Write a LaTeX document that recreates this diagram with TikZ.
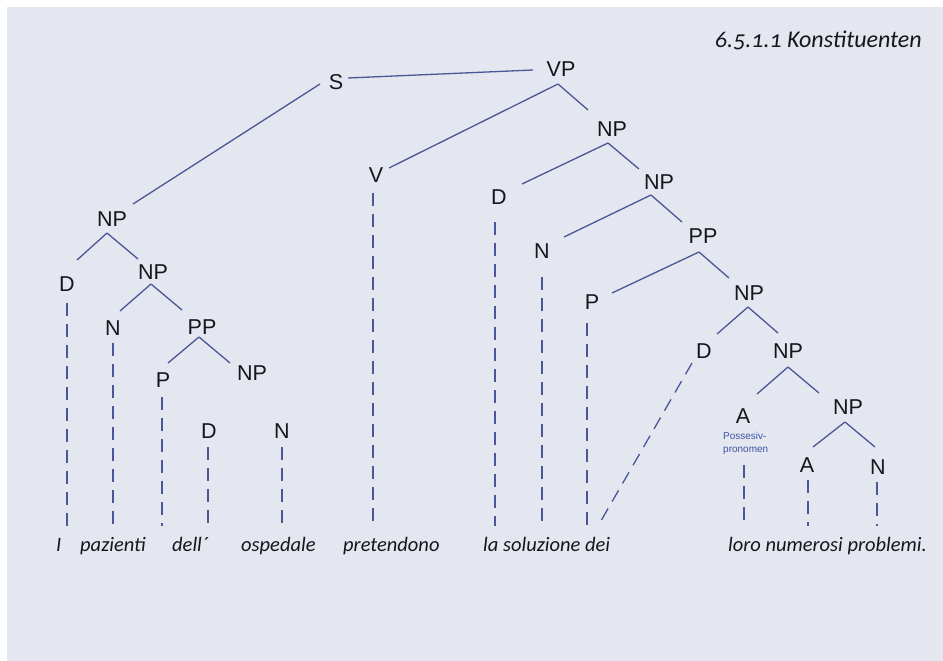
\documentclass[tikz,border=0pt]{standalone}
\usepackage{fontspec}
\setmainfont{Liberation Sans}
\newfontfamily\wordfont[Numbers=OldStyle]{Carlito}
\usetikzlibrary{calc}
\definecolor{bgc}{RGB}{228,231,240}
\definecolor{edgec}{RGB}{74,86,150}
\definecolor{lblc}{RGB}{22,22,28}
\definecolor{possc}{RGB}{62,82,165}
\newcommand\treeedge[6]{\draw[branch] ($(#1)+(#2,#3)$) -- ($(#4)+(#5,#6)$);}
\begin{document}
\begin{tikzpicture}[x=1pt,y=-1pt,
  cat/.style={font=\fontsize{21.5}{25}\selectfont, text=lblc, inner sep=0pt},
  word/.style={font=\wordfont\itshape\fontsize{20.5}{24}\selectfont, anchor=base west, inner sep=0pt, text=lblc},
  titlestyle/.style={font=\wordfont\itshape\fontsize{24}{28}\selectfont, anchor=base east, inner sep=0pt, text=lblc},
  poss/.style={font=\fontsize{10}{13}\selectfont, text=possc, inner sep=0pt, align=left, anchor=north west},
  branch/.style={draw=edgec, line width=1.3pt},
  proj/.style={draw=edgec, line width=1.3pt, dash pattern=on 13pt off 8pt}]
\useasboundingbox (0,0) rectangle (943,661);
\fill[white] (0,0) rectangle (943,661);
\fill[bgc] (7,7) rectangle (943,661);
\coordinate (base) at (0,526);

\node[titlestyle] (title) at (922,48) {6.5.1.1 Konstituenten};

% category nodes
\node[cat] (S)   at (336,82)  {S};
\node[cat] (VP)  at (561,69)  {VP};
\node[cat] (NPa) at (112,219) {NP};
\node[cat] (Da)  at (67,284)  {D};
\node[cat] (NPb) at (153,272) {NP};
\node[cat] (Nb)  at (113,328) {N};
\node[cat] (PPb) at (202,327) {PP};
\node[cat] (Pb)  at (163,380) {P};
\node[cat] (NPc) at (252,373) {NP};
\node[cat] (Dc)  at (209,431) {D};
\node[cat] (Nc)  at (282,431) {N};
\node[cat] (V)   at (376,175) {V};
\node[cat] (NP1) at (612,129) {NP};
\node[cat] (D1)  at (499,197) {D};
\node[cat] (NP2) at (659,182) {NP};
\node[cat] (N2)  at (542,251) {N};
\node[cat] (PP3) at (703,236) {PP};
\node[cat] (P3)  at (592,302) {P};
\node[cat] (NP4) at (749,293) {NP};
\node[cat] (D4)  at (704,351) {D};
\node[cat] (NP5) at (788,351) {NP};
\node[cat] (A5)  at (743,416) {A};
\node[cat] (NP6) at (848,407) {NP};
\node[cat] (A6)  at (807,465) {A};
\node[cat] (N6)  at (878,467) {N};
\node[poss] (possn) at (723,432) {Possesiv-\\pronomen};

% words
\node[word] (w1) at (56,551)  {I};
\node[word] (w2) at (80,551)  {pazienti};
\node[word] (w3) at (172,551) {dell´};
\node[word] (w4) at (241,551) {ospedale};
\node[word] (w5) at (343,551) {pretendono};
\node[word] (w6) at (483,551) {la soluzione dei};
\node[word] (w7) at (728,551) {loro numerosi problemi.};

% branches
\treeedge{S}{12}{-4}{VP}{-28}{1}
\treeedge{S}{-16}{2}{NPa}{21}{-15}
\treeedge{VP}{-3}{15}{V}{13}{-7}
\treeedge{VP}{-3}{15}{NP1}{-24}{-19}
\treeedge{NP1}{-4}{14}{D1}{23}{-13}
\treeedge{NP1}{-4}{14}{NP2}{-20}{-13}
\treeedge{NP2}{-8}{13}{N2}{22}{-14}
\treeedge{NP2}{-8}{13}{PP3}{-21}{-14}
\treeedge{PP3}{-4}{16}{P3}{20}{-9}
\treeedge{PP3}{-4}{16}{NP4}{-20}{-15}
\treeedge{NP4}{-1}{14}{D4}{13}{-17}
\treeedge{NP4}{-1}{14}{NP5}{-10}{-18}
\treeedge{NP5}{0}{16}{A5}{14}{-22}
\treeedge{NP5}{0}{16}{NP6}{-29}{-14}
\treeedge{NP6}{-3}{15}{A6}{6}{-18}
\treeedge{NP6}{-3}{15}{N6}{-3}{-20}
\treeedge{NPa}{-5}{14}{Da}{10}{-24}
\treeedge{NPa}{-5}{14}{NPb}{-15}{-13}
\treeedge{NPb}{-2}{12}{Nb}{7}{-17}
\treeedge{NPb}{-2}{12}{PPb}{-20}{-17}
\treeedge{PPb}{-3}{10}{Pb}{5}{-17}
\treeedge{PPb}{-3}{10}{NPc}{-22}{-10}

% projection lines
\draw[proj] ($(Da)+(0,19)$) coordinate (t) -- (t |- base);
\draw[proj] ($(Nb)+(0,15)$) coordinate (t) -- (t |- base);
\draw[proj] ($(Pb)+(-1,17)$) coordinate (t) -- (t |- base);
\draw[proj] ($(Dc)+(-1,16)$) coordinate (t) -- (t |- base);
\draw[proj] ($(Nc)+(0,16)$) coordinate (t) -- (t |- base);
\draw[proj] ($(V)+(-3,18)$) coordinate (t) -- (t |- base);
\draw[proj] ($(D1)+(-4,25)$) coordinate (t) -- (t |- base);
\draw[proj] ($(N2)+(0,26)$) coordinate (t) -- (t |- base);
\draw[proj] ($(P3)+(-5,21)$) coordinate (t) -- (t |- base);
\draw[proj] ($(D4)+(-12,12)$) -- ($(D4)+(-106,175)$);
\draw[proj] ($(A5)+(1,49)$) coordinate (t) -- (t |- base);
\draw[proj] ($(A6)+(1,15)$) coordinate (t) -- (t |- base);
\draw[proj] ($(N6)+(-1,15)$) coordinate (t) -- (t |- base);
\end{tikzpicture}
\end{document}
